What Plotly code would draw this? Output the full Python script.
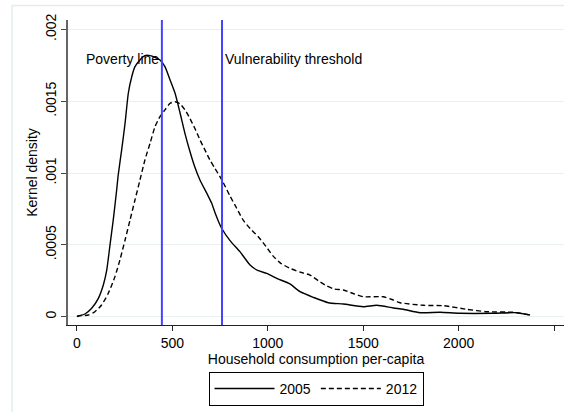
import plotly.graph_objects as go

# ---- data ----
x2005 = [0, 7, 42, 77, 112, 138, 156, 173, 190, 208, 216, 234, 252, 269, 287, 304, 330, 356, 383,
         409, 435, 461, 488, 514, 540, 566, 592, 618, 645, 680, 706, 723, 741, 758, 802, 854, 907,
         950, 994, 1047, 1116, 1169, 1238, 1317, 1396, 1500, 1571, 1658, 1710, 1798, 1903, 2007,
         2182, 2304, 2374]
y2005 = [0.0000020, 0.0000050, 0.0000188, 0.0000585, 0.000128, 0.000221, 0.000325, 0.000499,
         0.000673, 0.000882, 0.000985, 0.00116, 0.001347, 0.001556, 0.001671, 0.001741, 0.001788,
         0.001818, 0.001818, 0.001806, 0.001788, 0.001741, 0.001648, 0.001556, 0.001420, 0.001275,
         0.001150, 0.001040, 0.000950, 0.000860, 0.000790, 0.000725, 0.000665, 0.000616, 0.000530,
         0.000453, 0.000360, 0.000320, 0.000302, 0.000267, 0.000228, 0.000174, 0.000135, 0.0000975,
         0.0000884, 0.0000696, 0.0000794, 0.0000606, 0.0000515, 0.0000279, 0.0000306, 0.0000237,
         0.0000237, 0.0000279, 0.0000118]

x2012 = [0, 7, 59, 94, 129, 164, 199, 225, 252, 278, 304, 330, 356, 383, 409, 435, 461, 488, 514,
         540, 566, 592, 618, 645, 671, 697, 722, 758, 802, 837, 872, 910, 950, 990, 1029, 1070, 1116,
         1170, 1221, 1265, 1309, 1350, 1396, 1450, 1500, 1605, 1650, 1693, 1815, 1920, 2042, 2147,
         2287, 2374]
y2012 = [0.0000010, 0.0000050, 0.0000118, 0.0000348, 0.0000815, 0.000163, 0.000279, 0.000395,
         0.000534, 0.000673, 0.000813, 0.000952, 0.001091, 0.001208, 0.001323, 0.001393, 0.001440,
         0.001486, 0.001497, 0.001482, 0.001440, 0.001380, 0.001310, 0.001230, 0.001160, 0.001090,
         0.001035, 0.000955, 0.000840, 0.000755, 0.000670, 0.000610, 0.000557, 0.000490, 0.000420,
         0.000370, 0.000337, 0.000310, 0.000290, 0.000250, 0.000214, 0.000192, 0.000186, 0.000160,
         0.000139, 0.000139, 0.000120, 0.0000975, 0.0000794, 0.0000766, 0.0000515, 0.0000348,
         0.0000306, 0.0000118]

poverty_line = 445
vulnerability_threshold = 760

x_ticks = [0, 500, 1000, 1500, 2000, 2500]
y_ticks = [0, 0.0005, 0.001, 0.0015, 0.002]
y_ticktext = ["0", ".0005", ".001", ".0015", ".002"]

FONT = "Arial, Liberation Sans, sans-serif"
FRAME = "#e2ecee"

fig = go.Figure()
fig.add_trace(go.Scatter(x=x2005, y=y2005, mode="lines", name="2005",
                         line=dict(color="black", width=1.4, shape="spline", smoothing=0.6)))
fig.add_trace(go.Scatter(x=x2012, y=y2012, mode="lines", name="2012",
                         line=dict(color="black", width=1.4, dash="5px,3px", shape="spline", smoothing=0.6)))

for xv in [poverty_line, vulnerability_threshold]:
    fig.add_shape(type="line", xref="x", yref="paper", x0=xv, x1=xv, y0=0, y1=1,
                  line=dict(color="#4444ff", width=2))

# outer graph-region frame (left and top edges; the rest lies outside the window)
fig.add_shape(type="line", xref="paper", yref="paper", x0=-0.1129, x1=-0.1129, y0=-0.32, y1=1.0475,
              line=dict(color=FRAME, width=1.5), layer="below")
fig.add_shape(type="line", xref="paper", yref="paper", x0=-0.1129, x1=1.05, y0=1.0475, y1=1.0475,
              line=dict(color=FRAME, width=1.5), layer="below")

fig.add_annotation(x=poverty_line, y=0.001795, text="Poverty line", showarrow=False,
                   xanchor="right", yanchor="middle", xshift=-1, font=dict(size=14, color="black"))
fig.add_annotation(x=vulnerability_threshold, y=0.001795, text="Vulnerability threshold",
                   showarrow=False, xanchor="left", yanchor="middle", xshift=1,
                   font=dict(size=14, color="black"))

fig.update_layout(
    width=564, height=412,
    margin=dict(l=68, r=0, t=20, b=87),
    paper_bgcolor="white", plot_bgcolor="white",
    font=dict(family=FONT, size=14, color="black"),
    showlegend=True,
    legend=dict(orientation="h", x=0.5, xanchor="center", y=-0.154, yanchor="top",
                bordercolor="black", borderwidth=1, bgcolor="white",
                font=dict(size=14), itemwidth=60),
    xaxis=dict(range=[-47, 2552], tickvals=x_ticks, showgrid=False, zeroline=False,
               showline=True, linecolor="#222222", linewidth=1.2,
               ticks="outside", ticklen=5, tickcolor="#222222", tickfont=dict(size=14),
               title=dict(text="Household consumption per-capita", standoff=1,
                          font=dict(size=14))),
    yaxis=dict(range=[-0.0000578, 0.002066], tickvals=y_ticks, ticktext=y_ticktext,
               tickangle=-90, showgrid=True, gridcolor="#e8f0f2", gridwidth=1, zeroline=False,
               showline=True, linecolor="#666666", linewidth=1.5,
               ticks="outside", ticklen=5, tickcolor="#444444", tickfont=dict(size=14),
               title=dict(text="Kernel density", standoff=2, font=dict(size=14))),
)

fig.write_html("out.html")
